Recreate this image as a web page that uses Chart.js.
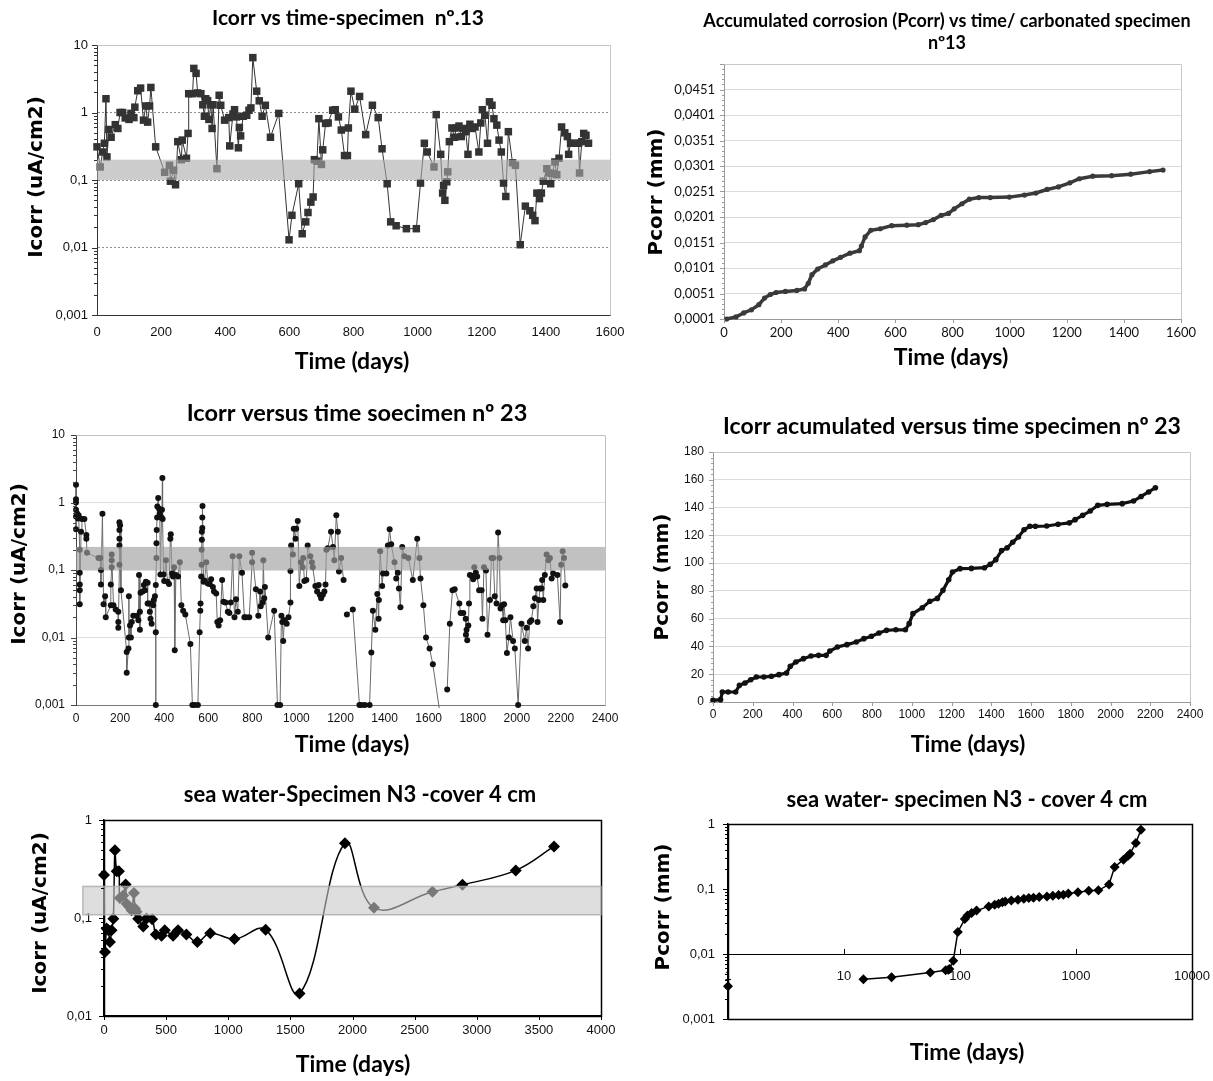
<!DOCTYPE html>
<html lang="en">
<head>
  <meta charset="UTF-8">
  <title>Icorr and Pcorr versus time</title>
  <script src="https://cdn.jsdelivr.net/npm/chart.js"></script>
  <style>
    body { margin: 0; background: #fff; width: 1213px; height: 1081px; overflow: hidden; position: relative; }
    canvas { position: absolute; }
  </style>
</head>
<body>
  <canvas id="c1" width="630" height="385" style="left:0px;top:0px"></canvas>
  <canvas id="c2" width="593" height="385" style="left:620px;top:0px"></canvas>
  <canvas id="c3" width="630" height="395" style="left:0px;top:385px"></canvas>
  <canvas id="c4" width="593" height="395" style="left:620px;top:385px"></canvas>
  <canvas id="c5" width="630" height="306" style="left:0px;top:775px"></canvas>
  <canvas id="c6" width="593" height="306" style="left:620px;top:775px"></canvas>

<script>
// ---------- specimen nº13 (carbonated) : Icorr ----------
const days13 = [0,10,18,23,28,31,37,44,57,65,72,80,88,100,106,115,118,127,136,145,
  152,158,164,168,183,211,226,229,239,245,252,263,266,279,284,286,298,302,309,314,
  324,330,335,339,345,349,355,359,362,374,381,386,398,411,414,424,429,435,441,444,
  448,456,467,474,480,486,498,506,515,525,541,567,599,608,629,640,651,658,667,674,
  678,686,692,700,704,713,721,735,743,753,762,772,781,784,792,804,819,838,859,877,
  889,905,916,933,965,996,1009,1021,1030,1051,1058,1072,1078,1081,1085,1091,1094,1099,1107,1115,
  1121,1129,1136,1144,1150,1157,1163,1170,1179,1191,1197,1202,1210,1218,1224,1232,1238,1247,1254,1261,
  1268,1275,1283,1296,1305,1320,1336,1350,1359,1366,1372,1380,1386,1392,1403,1409,1415,1421,1428,1434,
  1441,1449,1459,1467,1471,1477,1489,1502,1505,1512,1518,1525,1533];
const icorr13 = [0.31,0.156,0.26,0.35,1.6,0.22,0.56,0.43,0.66,0.58,1.0,1.0,0.83,0.79,0.97,0.84,1.2,2.1,2.3,0.77,
  1.25,0.72,1.25,2.35,0.31,0.13,0.165,0.096,0.14,0.085,0.37,0.20,0.39,0.21,0.49,1.9,1.9,4.5,3.8,1.95,
  1.9,1.3,0.88,1.6,1.5,0.79,1.3,0.58,1.3,0.147,1.8,1.28,0.77,0.84,0.32,0.95,1.1,0.86,0.30,0.60,
  0.45,0.88,0.91,1.08,1.17,6.5,2.07,1.49,0.88,1.28,0.43,0.97,0.013,0.030,0.088,0.016,0.024,0.033,0.047,0.056,
  0.20,0.19,0.81,0.17,0.28,0.69,0.70,1.08,1.1,0.86,0.55,0.23,0.23,0.59,2.07,1.12,1.73,0.47,1.28,0.84,
  0.29,0.088,0.024,0.021,0.019,0.019,0.090,0.35,0.26,0.156,0.93,0.24,0.064,0.083,0.050,0.094,0.132,0.37,0.59,0.43,
  0.59,0.63,0.44,0.58,0.52,0.24,0.67,0.58,0.61,0.26,0.70,1.1,0.91,0.35,1.44,1.28,0.81,0.65,0.39,0.26,
  0.090,0.057,0.52,0.18,0.165,0.011,0.041,0.035,0.030,0.025,0.064,0.053,0.064,0.096,0.147,0.127,0.088,0.125,0.185,0.12,
  0.21,0.61,0.50,0.44,0.24,0.35,0.35,0.35,0.127,0.37,0.49,0.46,0.35];

// ---------- specimen nº13 : accumulated Pcorr ----------
const days13acc = [9,42,69,96,122,142,162,182,215,255,282,295,308,328,355,381,408,441,474,481,
  494,514,547,587,640,680,706,733,760,786,806,833,859,892,932,999,1052,1092,1131,1171,
  1211,1244,1291,1357,1424,1490,1537];
const pcorr13 = [0.0001,0.0005,0.0013,0.0019,0.0029,0.0042,0.0049,0.0053,0.0055,0.0057,0.0060,0.0071,0.0088,0.0099,0.0107,0.0115,0.0122,0.0130,0.0135,0.0144,
  0.0162,0.0175,0.0178,0.0184,0.0185,0.0186,0.0190,0.0196,0.0204,0.0208,0.0217,0.0227,0.0236,0.0239,0.0239,0.0240,0.0244,0.0248,0.0255,0.0260,
  0.0268,0.0276,0.0281,0.0282,0.0285,0.0290,0.0293];

// ---------- specimen nº23 : Icorr (null = no reading) ----------
const days23 = [0,0,0,0,0,0,5,9,12,17,17,17,17,17,23,27,38,47,47,50,
  102,110,113,113,120,125,132,135,158,158,162,162,162,170,180,192,192,192,197,197,197,197,197,200,204,
  230,230,238,240,240,245,249,253,260,275,283,286,290,290,293,302,308,313,317,325,325,332,335,338,343,343,350,353,358,362,362,362,
  365,365,366,368,369,373,377,380,383,388,390,392,393,397,400,408,415,422,428,430,436,440,445,448,453,463,471,478,486,496,519,528,538,553,
  561,564,565,568,570,570,571,571,573,573,574,579,583,591,598,606,613,621,626,636,641,647,654,663,669,678,689,696,702,711,719,726,734,741,753,764,771,786,799,799,
  816,827,835,838,847,850,854,857,872,899,914,926,932,936,940,946,956,964,973,973,976,984,988,996,999,1006,1013,1020,1028,1031,1036,1045,1051,1063,1070,
  1074,1086,1094,1101,1106,1112,1120,1127,1132,1136,1142,1157,1166,1172,1181,1188,1193,1203,1214,1220,
  1229,1256,1286,1295,1310,1332,1340,1347,1358,1367,1373,1374,1380,1389,1393,1408,1415,1423,1430,1445,1453,1460,1465,1472,1480,1490,1508,1528,1548,1558,1563,1576,1588,1604,1619,1650,1667,
  1684,1696,1708,1718,1739,1745,1757,1768,1769,1772,1775,1780,1783,1787,1795,1802,1807,1814,1820,1829,1840,1844,1851,1860,1867,1878,1885,1893,1900,1908,
  1915,1921,1926,1933,1938,1942,1948,1955,1964,1971,1983,1991,2006,2021,2036,2044,2051,2059,2066,2075,2082,2090,2094,2100,2105,2112,2115,2120,2127,2135,
  2143,2150,2158,2165,2184,2196,2201,2208,2214,2220];
const icorr23 = [1.83,1.12,1.0,0.78,0.62,0.40,0.69,0.58,0.65,0.20,0.091,0.061,0.05,0.031,0.37,0.57,0.57,0.33,0.29,0.18,
  0.15,0.15,0.1,0.061,0.68,0.031,0.041,0.020,0.030,0.061,0.11,0.14,0.17,0.03,0.026,0.024,0.017,0.014,0.12,0.23,0.29,0.39,0.51,0.46,0.05,
  0.0061,0.003,0.0069,0.041,0.01,0.015,0.01,0.017,0.021,0.021,0.018,0.084,0.024,0.013,0.046,0.048,0.06,0.05,0.067,0.065,0.032,0.032,0.024,0.019,0.016,0.032,0.03,0.036,0.041,0.012,0.001,0.06,
  0.15,0.25,0.39,0.6,0.87,1.17,0.81,0.69,0.086,0.6,0.78,2.3,0.57,0.086,0.069,0.14,0.067,0.062,0.29,0.34,0.089,0.08,0.11,0.0065,0.084,0.08,0.13,0.03,0.025,0.022,0.008,0.001,0.001,0.001,
  0.012,0.025,0.032,0.08,0.12,0.2,0.28,0.37,0.42,0.6,0.89,0.067,0.07,0.13,0.063,0.062,0.073,0.056,0.048,0.045,0.017,0.015,0.018,0.071,0.034,0.033,0.024,0.023,0.033,0.16,0.02,0.037,0.024,0.16,0.091,0.02,0.02,0.02,0.13,0.18,
  0.052,0.021,0.048,0.029,0.033,0.14,0.038,0.056,0.01,0.025,0.001,0.001,0.021,0.017,0.0089,0.018,0.016,0.02,0.033,0.097,0.23,0.17,0.41,0.29,0.41,0.53,0.058,0.13,0.11,0.15,0.069,0.071,0.23,0.16,0.13,
  0.11,0.058,0.048,0.06,0.043,0.038,0.043,0.048,0.061,0.2,0.21,0.37,0.22,0.14,0.65,0.37,0.095,0.15,0.071,null,
  0.022,0.026,0.001,0.001,0.001,0.001,0.006,0.025,0.013,0.044,0.019,0.036,0.19,0.058,0.089,0.089,0.23,0.4,0.24,0.13,0.075,0.091,0.053,0.028,0.22,0.16,0.15,0.071,0.29,0.15,0.075,0.03,0.01,0.0069,0.004,0.0008,null,
  0.0017,0.016,0.05,0.052,0.032,0.023,0.023,0.019,0.011,0.013,0.0091,0.015,0.032,0.084,0.082,0.073,0.11,0.091,0.08,0.05,0.05,0.019,0.11,0.098,0.011,0.036,0.15,0.15,0.041,0.032,
  0.36,0.15,0.027,0.03,0.018,0.031,0.018,0.0059,0.01,0.02,0.0089,0.0069,0.001,0.016,0.0089,0.014,0.0069,0.017,0.018,0.029,0.038,0.053,0.017,0.036,0.053,0.053,0.071,0.036,0.084,0.17,
  0.14,0.15,0.075,0.089,0.084,0.017,0.12,0.19,0.15,0.059];

// ---------- specimen nº23 : accumulated ----------
const days23acc = [0,38,47,76,114,133,161,190,218,256,294,332,370,389,417,455,493,531,569,588,
  626,674,721,759,797,835,873,920,968,987,1006,1053,1091,1129,1157,1186,1205,1243,1300,1366,
  1395,1423,1452,1480,1508,1537,1565,1594,1622,1679,1736,1793,1822,1860,1898,1936,1983,2059,2116,2154,
  2192,2226];
const pcorr23 = [1.2,1.7,7.2,7.2,7.2,12,13.7,16,18,18,18.5,19.7,20.9,25.7,28.8,31.2,33.1,33.6,33.6,36.7,
  39.6,41.3,43.2,45.6,47.3,49.7,51.6,52,52,56.4,63.6,67.9,72.5,74.6,80.4,88,93.6,96,96.2,96.7,
  99.1,102.5,109,111,115,118.8,124,126.5,126.5,126.7,128,129,131.3,134.4,137.5,141.6,142.3,142.8,144.7,148,
  151.2,154.3];

// ---------- sea water, specimen N3, cover 4 cm ----------
const daysN3 = [0,8,21,35,48,61,75,88,102,120,128,155,174,182,203,222,241,249,262,275,
  316,342,388,417,463,489,556,596,663,751,855,1050,1301,1574,1939,2173,2644,2885,3314,3622];
const icorrN3 = [0.275,0.045,0.078,0.075,0.057,0.075,0.098,0.49,0.30,0.30,0.16,0.17,0.22,0.14,0.13,0.12,0.18,0.125,0.116,0.098,
  0.082,0.099,0.097,0.068,0.066,0.075,0.066,0.075,0.068,0.057,0.07,0.061,0.076,0.017,0.58,0.127,0.185,0.218,0.306,0.537];
const daysN3acc = [14.7,25.7,55.4,75.3,79.4,81,87.5,95.8,110,116,126,139,177,199,215,232,245,277,316,355,
  392,430,482,562,631,708,777,858,1039,1288,1559,1925,2154,2566,2812,2924,3281,3630];
const pcorrN3 = [0.0041,0.0044,0.0052,0.0056,0.0057,0.0059,0.0079,0.0218,0.0345,0.039,0.0428,0.0465,0.054,0.0574,0.0594,0.0624,0.064,0.0667,0.0685,0.0709,
  0.0728,0.0736,0.0752,0.077,0.0789,0.0808,0.0818,0.085,0.089,0.094,0.0955,0.117,0.218,0.283,0.326,0.35,0.51,0.818];
const daysN3first = [1];
const pcorrN3first = [0.0032];

// ---------- axis ticks ----------
const logTicks = [0.001, 0.01, 0.1, 1, 10];
const logTickLabels = ['0,001', '0,01', '0,1', '1', '10'];
const dayTicks1600 = [0, 200, 400, 600, 800, 1000, 1200, 1400, 1600];
const dayTicks2400 = [0, 200, 400, 600, 800, 1000, 1200, 1400, 1600, 1800, 2000, 2200, 2400];
const dayTicks4000 = [0, 500, 1000, 1500, 2000, 2500, 3000, 3500, 4000];
const dayTicksLog = [1, 10, 100, 1000, 10000];
const dayTickLabelsLog = ['1', '10', '100', '1000', '10000'];
const pcorrTicks13 = [0.0001, 0.0051, 0.0101, 0.0151, 0.0201, 0.0251, 0.0301, 0.0351, 0.0401, 0.0451, 0.0501];
const pcorrTickLabels13 = ['0,0001', '0,0051', '0,0101', '0,0151', '0,0201', '0,0251', '0,0301', '0,0351', '0,0401', '0,0451', ''];
const pcorrTicks23 = [0, 20, 40, 60, 80, 100, 120, 140, 160, 180];

// ---------- helpers ----------
const pts = (xs, ys) => xs.map((x, i) => ({ x: x, y: ys[i] }));

// small tick marks between the labelled ones
function logMinor(lo, hi) {
  const out = [];
  for (let d = lo; d < hi * 0.999; d *= 10) for (let k = 2; k <= 9; k++) out.push(d * k);
  return out;
}
function steps(lo, hi, st) {
  const out = [];
  for (let v = lo; v <= hi + st / 2; v += st) out.push(+v.toFixed(6));
  return out;
}

// canvas at (X,Y) of size W x H, plot area = [left, top, right, bottom] on the page
function place(X, Y, W, H, area) {
  return {
    origin: [X, Y],
    padding: { left: 0, top: area[1] - Y, right: X + W - area[2], bottom: 0 },
    yWidth: area[0] - X,
    xHeight: Y + H - area[3]
  };
}

function axis(o) {
  const cfg = {
    type: o.type || 'linear',
    min: o.min,
    max: o.max,
    afterBuildTicks: s => { s.ticks = o.values.map(v => ({ value: v })); },
    afterFit: s => {
      if (o.size !== undefined) {
        if (s.isHorizontal()) s.height = o.size; else s.width = o.size;
      }
      s.paddingLeft = 0; s.paddingRight = 0; s.paddingTop = 0; s.paddingBottom = 0;
    },
    ticks: {
      autoSkip: false, maxRotation: 0, minRotation: 0, padding: o.pad,
      color: '#111', font: o.font,
      callback: (v, i) => (o.labels ? o.labels[i] : String(v))
    },
    grid: {
      display: !!o.grid, drawTicks: false, lineWidth: 1,
      color: c => (o.gridSkip && o.gridSkip.indexOf(c.index) >= 0) ? 'rgba(0,0,0,0)' : (o.grid || '#ddd')
    },
    border: { color: o.border || '#888', width: o.borderWidth || 1, dash: o.dash || [] }
  };
  if (o.position) cfg.position = o.position;
  return cfg;
}

function opts(L, x, y) {
  return {
    responsive: false, animation: false, events: [],
    layout: { padding: L.padding },
    plugins: { legend: { display: false }, tooltip: { enabled: false } },
    scales: { x: x, y: y }
  };
}

// frame, shaded band, small tick marks and the captions of one panel
function decor(spec) {
  const ox = spec.origin[0], oy = spec.origin[1];
  const px = v => Math.round(v) + 0.5;
  return {
    id: 'decor',
    beforeDatasetsDraw(chart) {
      const f = spec.frame;
      if (!f) return;
      const a = chart.chartArea, ctx = chart.ctx;
      ctx.save();
      ctx.strokeStyle = f.color;
      ctx.lineWidth = f.width || 1;
      ctx.beginPath();
      if (f.all) {
        ctx.rect(px(a.left), px(a.top), Math.round(a.right) - Math.round(a.left), Math.round(a.bottom) - Math.round(a.top));
      } else {
        ctx.moveTo(px(a.left), px(a.top));
        ctx.lineTo(px(a.right), px(a.top));
        ctx.lineTo(px(a.right), px(a.bottom));
      }
      ctx.stroke();
      ctx.restore();
    },
    afterDatasetsDraw(chart) {
      const b = spec.band;
      if (!b) return;
      const sx = chart.scales.x, sy = chart.scales.y, ctx = chart.ctx;
      const x0 = sx.getPixelForValue(b.x0), x1 = sx.getPixelForValue(b.x1);
      const y0 = sy.getPixelForValue(b.y0), y1 = sy.getPixelForValue(b.y1);
      ctx.save();
      ctx.fillStyle = b.fill;
      ctx.fillRect(x0, y1, x1 - x0, y0 - y1);
      if (b.edge) {
        ctx.strokeStyle = b.edge;
        ctx.lineWidth = 1.5;
        ctx.strokeRect(x0, y1, x1 - x0, y0 - y1);
      }
      ctx.restore();
    },
    afterDraw(chart) {
      const ctx = chart.ctx, a = chart.chartArea;
      (spec.marks || []).forEach(m => {
        const s = chart.scales[m.axis];
        // x marks hang below the plot, or sit on a line at y = m.at when given
        const base = m.at !== undefined ? chart.scales.y.getPixelForValue(m.at) : a.bottom;
        ctx.save();
        ctx.strokeStyle = m.color;
        ctx.lineWidth = 1;
        ctx.beginPath();
        m.values.forEach(v => {
          const p = px(s.getPixelForValue(v));
          if (m.axis === 'y') { ctx.moveTo(a.left - m.len, p); ctx.lineTo(a.left, p); }
          else { ctx.moveTo(p, base); ctx.lineTo(p, base + m.len); }
        });
        ctx.stroke();
        ctx.restore();
      });
      (spec.texts || []).forEach(t => {
        ctx.save();
        ctx.font = t.f;
        ctx.fillStyle = '#000';
        ctx.textAlign = 'center';
        ctx.textBaseline = 'middle';
        ctx.translate(t.x - ox, t.y - oy);
        if (t.r) ctx.rotate(-Math.PI / 2);
        ctx.fillText(t.t, 0, 0);
        ctx.restore();
      });
    }
  };
}

const T = (t, x, y, f, r) => ({ t: t, x: x, y: y, f: f, r: r });
const fTime = 'bold 23px Lato';
const fAxis = 'bold 20px "DejaVu Sans"';
const arial = s => ({ family: 'Liberation Sans', size: s });

Chart.defaults.font.family = 'Liberation Sans';

// ---------- 1: Icorr vs time, specimen nº.13 ----------
const L1 = place(0, 0, 630, 385, [97, 45, 610, 315]);
new Chart(document.getElementById('c1'), {
  type: 'line',
  data: { datasets: [{
    data: pts(days13, icorr13),
    borderColor: '#333', borderWidth: 1,
    pointStyle: 'rect', pointRadius: 5.3, pointBorderWidth: 0,
    pointBackgroundColor: '#333', clip: false
  }] },
  options: opts(L1,
    axis({ min: 0, max: 1600, values: dayTicks1600, size: L1.xHeight, pad: 10, font: arial(13), border: '#333' }),
    axis({ type: 'logarithmic', min: 0.001, max: 10, values: logTicks, labels: logTickLabels, size: L1.yWidth,
      pad: 9, font: arial(13), border: '#333', grid: '#8c8c8c', dash: [2, 2], gridSkip: [0, 4] })),
  plugins: [decor({
    origin: L1.origin,
    frame: { color: '#c4c4c4' },
    band: { x0: 0, x1: 1600, y0: 0.1, y1: 0.2, fill: 'rgba(170,170,170,0.6)' },
    marks: [
      { axis: 'y', values: logTicks, len: 5, color: '#333' },
      { axis: 'y', values: logMinor(0.001, 10), len: 3, color: '#333' }
    ],
    texts: [
      T('Icorr vs time-specimen  nº.13', 348, 18, 'bold 21px Lato'),
      T('Time (days)', 352, 362, fTime),
      T('Icorr (uA/cm2)', 37, 177, fAxis, true)
    ]
  })]
});

// ---------- 2: accumulated corrosion, specimen nº13 ----------
const L2 = place(620, 0, 593, 385, [724, 64, 1181, 319]);
new Chart(document.getElementById('c2'), {
  type: 'line',
  data: { datasets: [{
    data: pts(days13acc, pcorr13),
    borderColor: '#3a3a3a', borderWidth: 3.5,
    pointStyle: 'circle', pointRadius: 2.6, pointBorderWidth: 0,
    pointBackgroundColor: '#3a3a3a', clip: false
  }] },
  options: opts(L2,
    axis({ min: 0, max: 1600, values: dayTicks1600, size: L2.xHeight, pad: 6, font: { family: 'Lato', size: 13 }, border: '#9a9a9a' }),
    axis({ min: 0.0001, max: 0.0501, values: pcorrTicks13, labels: pcorrTickLabels13, size: L2.yWidth,
      pad: 9, font: { family: 'Lato', size: 13 }, border: '#9a9a9a', grid: '#dadada', gridSkip: [0, 10] })),
  plugins: [decor({
    origin: L2.origin,
    frame: { color: '#c8c8c8' },
    marks: [
      { axis: 'y', values: pcorrTicks13, len: 4, color: '#9a9a9a' },
      { axis: 'y', values: steps(0.0001, 0.0501, 0.001), len: 2, color: '#9a9a9a' },
      { axis: 'x', values: dayTicks1600, len: 4, color: '#9a9a9a' }
    ],
    texts: [
      T('Accumulated corrosion (Pcorr) vs time/ carbonated specimen', 947, 21, 'bold 18px Lato'),
      T('nº13', 947, 43, 'bold 18px Lato'),
      T('Time (days)', 951, 358, fTime),
      T('Pcorr (mm)', 657, 192, fAxis, true)
    ]
  })]
});

// ---------- 3: Icorr vs time, specimen nº 23 ----------
const L3 = place(0, 385, 630, 395, [76, 435, 605, 705]);
new Chart(document.getElementById('c3'), {
  type: 'line',
  data: { datasets: [{
    data: pts(days23, icorr23),
    borderColor: '#6a6a6a', borderWidth: 1,
    pointStyle: 'circle', pointRadius: 3, pointBorderWidth: 0,
    pointBackgroundColor: '#111',
    clip: { left: 6, top: 6, right: 6, bottom: 3 }
  }] },
  options: opts(L3,
    axis({ min: 0, max: 2400, values: dayTicks2400, size: L3.xHeight, pad: 6, font: arial(12), border: '#777' }),
    axis({ type: 'logarithmic', min: 0.001, max: 10, values: logTicks, labels: logTickLabels, size: L3.yWidth,
      pad: 11, font: arial(12), border: '#444', grid: '#dedede', gridSkip: [0, 4] })),
  plugins: [decor({
    origin: L3.origin,
    frame: { color: '#c0c0c0' },
    band: { x0: 0, x1: 2400, y0: 0.1, y1: 0.22, fill: 'rgba(160,160,160,0.65)' },
    marks: [
      { axis: 'y', values: logTicks, len: 5, color: '#444' },
      { axis: 'y', values: logMinor(0.001, 10), len: 3, color: '#444' }
    ],
    texts: [
      T('Icorr versus time soecimen nº 23', 357, 413, 'bold 23.5px Lato'),
      T('Time (days)', 352, 745, fTime),
      T('Icorr (uA/cm2)', 20, 564, fAxis, true)
    ]
  })]
});

// ---------- 4: Icorr accumulated, specimen nº 23 ----------
const L4 = place(620, 385, 593, 395, [713, 452, 1190, 702]);
new Chart(document.getElementById('c4'), {
  type: 'line',
  data: { datasets: [{
    data: pts(days23acc, pcorr23),
    borderColor: '#111', borderWidth: 3.2,
    pointStyle: 'circle', pointRadius: 2.8, pointBorderWidth: 0,
    pointBackgroundColor: '#111', clip: false
  }] },
  options: opts(L4,
    axis({ min: 0, max: 2400, values: dayTicks2400, size: L4.xHeight, pad: 5, font: arial(12), border: '#9a9a9a' }),
    axis({ min: 0, max: 180, values: pcorrTicks23, size: L4.yWidth,
      pad: 9, font: arial(12), border: '#9a9a9a', grid: '#dadada', gridSkip: [0, 9] })),
  plugins: [decor({
    origin: L4.origin,
    frame: { color: '#c8c8c8' },
    marks: [
      { axis: 'y', values: pcorrTicks23, len: 4, color: '#9a9a9a' },
      { axis: 'y', values: steps(0, 180, 4), len: 2, color: '#9a9a9a' },
      { axis: 'x', values: dayTicks2400, len: 4, color: '#9a9a9a' }
    ],
    texts: [
      T('Icorr acumulated versus time specimen nº 23', 952, 427, 'bold 23px Lato'),
      T('Time (days)', 968, 745, fTime),
      T('Pcorr (mm)', 663, 577, fAxis, true)
    ]
  })]
});

// ---------- 5: sea water, Icorr, specimen N3 ----------
const L5 = place(0, 775, 630, 306, [104, 820, 601, 1016]);
new Chart(document.getElementById('c5'), {
  type: 'line',
  data: { datasets: [{
    data: pts(daysN3, icorrN3),
    borderColor: '#000', borderWidth: 1.5, tension: 0.4,
    pointStyle: 'rectRot', pointRadius: 6, pointBorderWidth: 0,
    pointBackgroundColor: '#000', clip: false
  }] },
  options: opts(L5,
    axis({ min: 0, max: 4000, values: dayTicks4000, size: L5.xHeight, pad: 7, font: arial(13), border: '#000', borderWidth: 1.5 }),
    axis({ type: 'logarithmic', min: 0.01, max: 1, values: logTicks.slice(1, 4), labels: logTickLabels.slice(1, 4), size: L5.yWidth,
      pad: 12, font: arial(13), border: '#000', borderWidth: 1.5 })),
  plugins: [decor({
    origin: L5.origin,
    frame: { color: '#000', width: 1.5, all: true },
    band: { x0: -170, x1: 4000, y0: 0.108, y1: 0.21, fill: 'rgba(200,200,200,0.6)', edge: 'rgba(170,170,170,0.8)' },
    marks: [
      { axis: 'y', values: logTicks.slice(1, 4), len: 5, color: '#000' },
      { axis: 'y', values: logMinor(0.01, 1), len: 3, color: '#000' },
      { axis: 'x', values: dayTicks4000, len: 4, color: '#000' }
    ],
    texts: [
      T('sea water-Specimen N3 -cover 4 cm', 360, 795, 'bold 22px Lato'),
      T('Time (days)', 353, 1065, fTime),
      T('Icorr (uA/cm2)', 41, 913, fAxis, true)
    ]
  })]
});

// ---------- 6: sea water, Pcorr, specimen N3 (log-log) ----------
const L6 = place(620, 775, 593, 306, [728, 824, 1192, 1019]);
L6.padding.bottom = L6.xHeight;
new Chart(document.getElementById('c6'), {
  type: 'line',
  data: { datasets: [{
    data: pts(daysN3acc, pcorrN3),
    borderColor: '#000', borderWidth: 1.5,
    pointStyle: 'rectRot', pointRadius: 5, pointBorderWidth: 0,
    pointBackgroundColor: '#000', clip: false
  }, {
    data: pts(daysN3first, pcorrN3first),
    showLine: false,
    pointStyle: 'rectRot', pointRadius: 5, pointBorderWidth: 0,
    pointBackgroundColor: '#000', clip: false
  }] },
  options: opts(L6,
    axis({ type: 'logarithmic', position: { y: 0.01 }, min: 1, max: 10000, values: dayTicksLog, labels: dayTickLabelsLog,
      pad: 15, font: arial(13), border: '#000' }),
    axis({ type: 'logarithmic', min: 0.001, max: 1, values: logTicks.slice(0, 4), labels: logTickLabels.slice(0, 4), size: L6.yWidth,
      pad: 13, font: arial(13), border: '#000', borderWidth: 1.5 })),
  plugins: [decor({
    origin: L6.origin,
    frame: { color: '#000', width: 1.5, all: true },
    marks: [
      { axis: 'y', values: logTicks.slice(0, 4), len: 5, color: '#000' },
      { axis: 'y', values: logMinor(0.001, 1), len: 3, color: '#000' },
      { axis: 'x', values: dayTicksLog.slice(1, 4), len: -5, at: 0.01, color: '#000' }
    ],
    texts: [
      T('sea water- specimen N3 - cover 4 cm', 967, 800, 'bold 22px Lato'),
      T('Time (days)', 967, 1053, fTime),
      T('Pcorr (mm)', 664, 907, fAxis, true)
    ]
  })]
});
</script>
</body>
</html>
